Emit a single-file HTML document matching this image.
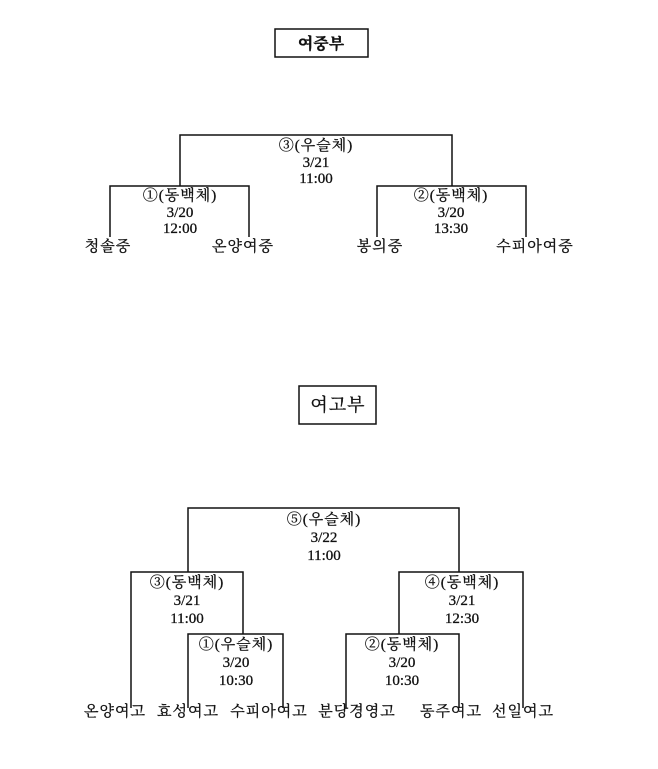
<!DOCTYPE html>
<html><head><meta charset="utf-8"><style>
html,body{margin:0;padding:0;background:#fff;}
svg text{font-family:"Liberation Serif","Noto Serif CJK KR","Noto Serif CJK SC",serif;font-size:15px;fill:#111;text-anchor:middle;stroke:#111;stroke-width:0.3;}
.k{letter-spacing:1px;}
</style></head><body>
<svg width="658" height="764" xmlns="http://www.w3.org/2000/svg">
<g fill="none" stroke="#111" stroke-width="1.5">
<rect x="275" y="29" width="93" height="28"/>
<polyline points="180,186 180,135 452,135 452,186"/>
<polyline points="110,237 110,186 249,186 249,237"/>
<polyline points="377,237 377,186 526,186 526,237"/>
<rect x="299" y="386" width="77" height="38"/>
<polyline points="188,572 188,508 459,508 459,572"/>
<polyline points="131,708 131,572 243,572 243,634"/>
<polyline points="188,708 188,634 283,634 283,708"/>
<polyline points="399,634 399,572 523,572 523,708"/>
<polyline points="346,708 346,634 459,634 459,708"/>
</g>
<text x="321" y="49" style="font-size:16px;font-weight:bold">여중부</text>
<text class="k" x="316" y="150">③(우슬체)</text>
<text x="316" y="167">3/21</text>
<text x="316" y="183">11:00</text>
<text class="k" x="180" y="200">①(동백체)</text>
<text x="180" y="217">3/20</text>
<text x="180" y="233">12:00</text>
<text class="k" x="451" y="200">②(동백체)</text>
<text x="451" y="217">3/20</text>
<text x="451" y="233">13:30</text>
<text class="k" x="108" y="251">청솔중</text>
<text class="k" x="243" y="251">온양여중</text>
<text class="k" x="380" y="251">봉의중</text>
<text class="k" x="535" y="251">수피아여중</text>
<text class="k" x="338" y="411" style="font-size:18px">여고부</text>
<text class="k" x="324" y="524">⑤(우슬체)</text>
<text x="324" y="542">3/22</text>
<text x="324" y="560">11:00</text>
<text class="k" x="187" y="587">③(동백체)</text>
<text x="187" y="605">3/21</text>
<text x="187" y="623">11:00</text>
<text class="k" x="462" y="587">④(동백체)</text>
<text x="462" y="605">3/21</text>
<text x="462" y="623">12:30</text>
<text class="k" x="236" y="649">①(우슬체)</text>
<text x="236" y="667">3/20</text>
<text x="236" y="685">10:30</text>
<text class="k" x="402" y="649">②(동백체)</text>
<text x="402" y="667">3/20</text>
<text x="402" y="685">10:30</text>
<text class="k" x="115" y="716">온양여고</text>
<text class="k" x="188" y="716">효성여고</text>
<text class="k" x="269" y="716">수피아여고</text>
<text class="k" x="357" y="716">분당경영고</text>
<text class="k" x="451" y="716">동주여고</text>
<text class="k" x="523" y="716">선일여고</text>
</svg>
</body></html>
